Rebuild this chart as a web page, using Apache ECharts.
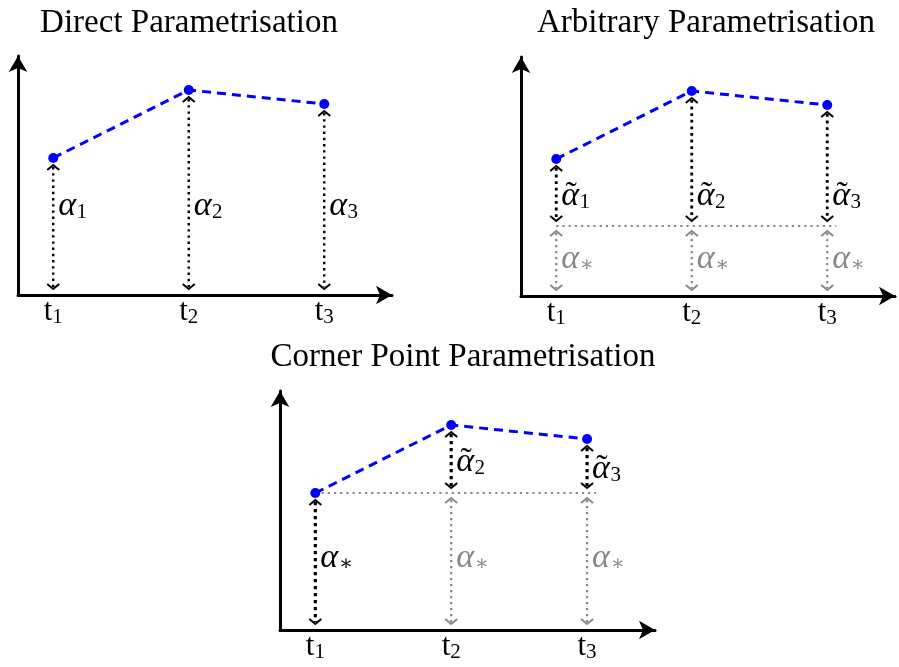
<!DOCTYPE html>
<html><head><meta charset="utf-8">
<script src="https://cdn.jsdelivr.net/npm/echarts@6/dist/echarts.min.js"></script>
<style>html,body{margin:0;padding:0;background:#fff}#c{width:899px;height:667px}</style>
</head><body><div id="c"></div>
<script>
// ---- data ----
const titles = ['Direct Parametrisation', 'Arbitrary Parametrisation', 'Corner Point Parametrisation'];
const times = [1, 2, 3];
const tickBase = 't';
const tickSubs = ['1', '2', '3'];
const alpha = [1.37, 2.05, 1.91];
const alphaStarArbitrary = 0.70;
const alphaStarCorner = alpha[0];

// ---- style ----
const FONT = "'Liberation Serif', 'DejaVu Serif', serif";
const BLACK = '#000', GRAY = '#888', BLUE = '#0000ff';
const MAIN = 31, ALPHA = 34, SUB = 21, TITLE = 33;
const X_MIN = 0.74, X_MAX = 3.5, Y_MAX = 2.39;
const GAP = { pt: 7, line: 5, axis: 6 };

const mctx = document.createElement('canvas').getContext('2d');
function tw(text, font) { mctx.font = font; return mctx.measureText(text).width; }
const fAlpha = 'italic ' + ALPHA + 'px ' + FONT;
const fTilde = ALPHA + 'px ' + FONT;
const fMain = MAIN + 'px ' + FONT;
const fSub = SUB + 'px ' + FONT;

const grids = [
  { left: 18, top: 56, width: 374, height: 239 },
  { left: 521, top: 57, width: 374, height: 239 },
  { left: 280, top: 391, width: 375, height: 239 }
];

function arrow(x, y0, y1, e0, e1, color, w) { return { type: 'arrow', x, y0, y1, e0, e1, color, w }; }
function label(x, y, sub, tilde, color, dy) { return { type: 'label', x, y, sub, tilde, color, dy: dy || 0 }; }
function hline(y, x0, x1) { return { type: 'hline', x: x0, y, x0, x1 }; }
function tick(x, sub) { return { type: 'tick', x, y: 0, sub }; }

const panels = [[], [], []];
// Panel 1: direct
times.forEach((t, i) => {
  panels[0].push(arrow(t, alpha[i], 0, 'pt', 'axis', BLACK, 2.4));
  panels[0].push(label(t, 0.855, tickSubs[i], false, BLACK));
  panels[0].push(tick(t, tickSubs[i]));
});
// Panel 2: arbitrary
panels[1].push(hline(alphaStarArbitrary, times[0], times[2]));
times.forEach((t, i) => {
  panels[1].push(arrow(t, alpha[i], alphaStarArbitrary, 'pt', 'line', BLACK, 2.8));
  panels[1].push(arrow(t, alphaStarArbitrary, 0, 'line', 'axis', GRAY, 2.2));
  panels[1].push(label(t, 0.96, tickSubs[i], true, BLACK));
  panels[1].push(label(t, 0.33, '\u2217', false, GRAY));
  panels[1].push(tick(t, tickSubs[i]));
});
// Panel 3: corner point
panels[2].push(hline(alphaStarCorner, times[0], times[2]));
panels[2].push(arrow(times[0], alphaStarCorner, 0, 'pt', 'axis', BLACK, 3.2));
panels[2].push(label(times[0], alphaStarCorner / 2, '\u2217', false, BLACK));
times.forEach((t, i) => {
  if (i > 0) {
    panels[2].push(arrow(t, alpha[i], alphaStarCorner, 'pt', 'line', BLACK, 3.2));
    panels[2].push(arrow(t, alphaStarCorner, 0, 'line', 'axis', GRAY, 2.2));
    panels[2].push(label(t, (alpha[i] + alphaStarCorner) / 2, tickSubs[i], true, BLACK, 7));
    panels[2].push(label(t, alphaStarCorner / 2, '\u2217', false, GRAY));
  }
  panels[2].push(tick(t, tickSubs[i]));
});

function chevron(x, y, dir, color) {
  return { type: 'polyline', shape: { points: [[x - 6, y + 5 * dir], [x, y], [x + 6, y + 5 * dir]] },
    style: { stroke: color, lineWidth: 2, fill: null, lineJoin: 'miter' } };
}

function makeRender(list) {
  return function (params, api) {
    const e = list[params.dataIndex];
    if (e.type === 'arrow') {
      const a = api.coord([e.x, e.y0]), b = api.coord([e.x, e.y1]);
      const x = a[0], ya = a[1] + GAP[e.e0], yb = b[1] - GAP[e.e1];
      return { type: 'group', children: [
        { type: 'line', shape: { x1: x, y1: ya + 2, x2: x, y2: yb - 2 },
          style: { stroke: e.color, lineWidth: e.w, lineDash: [e.w, 3.8] } },
        chevron(x, ya, 1, e.color),
        chevron(x, yb, -1, e.color)
      ] };
    }
    if (e.type === 'hline') {
      const a = api.coord([e.x0, e.y]), b = api.coord([e.x1, e.y]);
      return { type: 'line', shape: { x1: a[0], y1: a[1], x2: b[0] + 9, y2: a[1] },
        style: { stroke: GRAY, lineWidth: 2.2, lineDash: [2.2, 4] } };
    }
    if (e.type === 'label') {
      const p = api.coord([e.x, e.y]);
      const x0 = p[0] + 5, my = p[1] + e.dy - 3.8;
      const wa = tw('\u03b1', fAlpha);
      const ch = [
        { type: 'text', x: x0, y: my, style: { text: '\u03b1', font: fAlpha, fill: e.color, align: 'left', verticalAlign: 'middle' } },
        { type: 'text', x: x0 + wa + 0.5, y: my + 6.5, style: { text: e.sub, font: fSub, fill: e.color, align: 'left', verticalAlign: 'middle' } }
      ];
      if (e.tilde) ch.push({ type: 'text', x: x0 + wa / 2 + 1, y: my, style: { text: '\u02dc', font: fTilde, fill: e.color, align: 'center', verticalAlign: 'middle' } });
      return { type: 'group', children: ch };
    }
    if (e.type === 'tick') {
      const p = api.coord([e.x, 0]);
      const wt = tw(tickBase, fMain), ws = tw(e.sub, fSub);
      const x0 = p[0] - (wt + ws) / 2, my = p[1] + 17;
      return { type: 'group', children: [
        { type: 'text', x: x0, y: my, style: { text: tickBase, font: fMain, fill: BLACK, align: 'left', verticalAlign: 'middle' } },
        { type: 'text', x: x0 + wt, y: my + 5.4, style: { text: e.sub, font: fSub, fill: BLACK, align: 'left', verticalAlign: 'middle' } }
      ] };
    }
  };
}

const axisLine = { onZero: false, lineStyle: { color: BLACK, width: 3 }, symbol: ['none', 'arrow'], symbolSize: [14, 16] };
const xAxis = grids.map((g, i) => ({ gridIndex: i, type: 'value', min: X_MIN, max: X_MAX, axisLine,
  axisTick: { show: false }, axisLabel: { show: false }, splitLine: { show: false } }));
const yAxis = grids.map((g, i) => ({ gridIndex: i, type: 'value', min: 0, max: Y_MAX, axisLine,
  axisTick: { show: false }, axisLabel: { show: false }, splitLine: { show: false } }));

const series = [];
grids.forEach((g, i) => {
  series.push({ type: 'custom', xAxisIndex: i, yAxisIndex: i, z: 2, silent: true,
    renderItem: makeRender(panels[i]), data: panels[i].map(e => [e.x, e.y]) });
  series.push({ type: 'line', xAxisIndex: i, yAxisIndex: i, z: 5, silent: true,
    data: times.map((t, k) => [t, alpha[k]]), symbol: 'circle', symbolSize: 10, showSymbol: true,
    lineStyle: { color: BLUE, width: 3, type: [9, 6] }, itemStyle: { color: BLUE } });
});

const titlePos = [[189, 23.5], [706, 23.5], [463, 357.5]];
const chart = echarts.init(document.getElementById('c'), null, { renderer: 'canvas' });
chart.setOption({
  animation: false,
  backgroundColor: '#fff',
  grid: grids,
  xAxis, yAxis, series,
  graphic: titles.map((t, i) => ({ type: 'text', x: titlePos[i][0], y: titlePos[i][1], silent: true,
    style: { text: t, font: TITLE + 'px ' + FONT, fill: BLACK, align: 'center', verticalAlign: 'middle' } }))
});
</script></body></html>
